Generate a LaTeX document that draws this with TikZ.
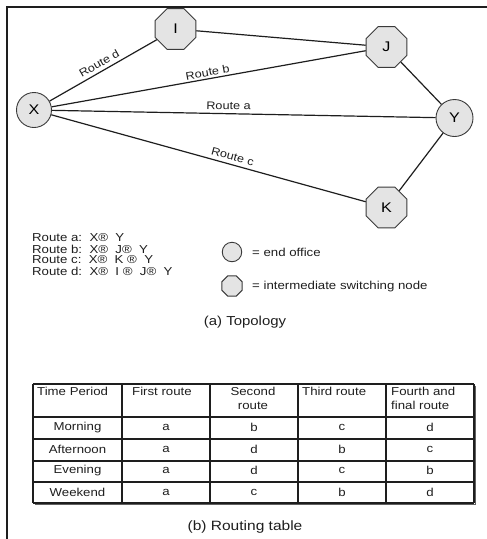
\documentclass[tikz,border=0pt]{standalone}
\usepackage{fontspec}
\setmainfont{Liberation Sans}[FakeStretch=1.15]
\usetikzlibrary{shapes.geometric}
\definecolor{nodefill}{HTML}{E4E4E4}
\definecolor{ink}{HTML}{1E1E1E}
\definecolor{rim}{HTML}{3A3A3A}
\begin{document}
\begin{tikzpicture}[x=1pt,y=-1pt,
 endoff/.style={circle,draw=rim,fill=nodefill,line width=0.9pt,minimum size=35pt,inner sep=0pt,font=\fontsize{14}{16}\selectfont},
 switchnode/.style={regular polygon,regular polygon sides=8,draw=rim,fill=nodefill,line width=0.9pt,minimum size=44pt,inner sep=0pt,font=\fontsize{14}{16}\selectfont},
 link/.style={draw=ink,line width=1.2pt},
 rlabel/.style={font=\fontsize{11}{13}\selectfont,sloped,above,inner sep=3.5pt,text=ink},
 legtext/.style={font=\fontsize{11.5}{13}\selectfont,anchor=west,inner sep=0pt,text=ink},
 cell/.style={font=\fontsize{11.5}{13.5}\selectfont,inner sep=0pt,text=ink},
 hcell/.style={font=\fontsize{11.5}{13.5}\selectfont,inner sep=0pt,text=ink,align=left,anchor=north west},
 caption/.style={font=\fontsize{13}{16}\selectfont,text=ink},
 tline/.style={line width=1.1pt,draw=ink}]
\useasboundingbox (0,0) rectangle (487,539);
% frame
\draw[line width=2pt,ink] (487,7) -- (7,7) -- (7,539);
% topology nodes
\node[endoff] (X) at (34,110) {X};
\node[switchnode] (I) at (175.5,29) {I};
\node[switchnode] (J) at (386.5,47) {J};
\node[endoff,minimum size=37pt] (Y) at (454.5,118) {Y};
\node[switchnode] (K) at (386.5,207.5) {K};
% links
\draw[link] (X) -- node[rlabel,pos=0.5]{Route d} (I);
\draw[link] (X) -- node[rlabel,pos=0.5,inner sep=2pt]{Route b} (J);
\draw[link] (X) -- node[rlabel,pos=0.46]{Route a} (Y);
\draw[link] (X) -- node[rlabel,pos=0.57]{Route c} (K);
\draw[link] (I) -- (J);
\draw[link] (J) -- (Y);
\draw[link] (K) -- (Y);
% legend
\node[legtext] (ra) at (32,238) {Route a:\ \ X® \ Y};
\node[legtext] (rb) at (32,249) {Route b:\ \ X® \ J® \ Y};
\node[legtext] (rc) at (32,260) {Route c:\ \ X® \ K ® \ Y};
\node[legtext] (rd) at (32,271) {Route d:\ \ X® \ I ® \ J® \ Y};
\node[endoff,minimum size=19.5pt] (le) at (232,252) {};
\node[switchnode,minimum size=22pt] (ls) at (232,286) {};
\node[legtext] (lt1) at (252,252) {= end office};
\node[legtext] (lt2) at (252,287) {= intermediate switching node};
\node[caption] (capa) at (245,322) {(a) Topology};
% table
\foreach \yy in {384,417,439,461,482,503} \draw[tline] (33,\yy) -- (474,\yy);
\foreach \xx in {33,122,210,298,386,474} \draw[tline] (\xx,384) -- (\xx,503);
\draw[line width=1pt,ink!70] (475.5,385.5) -- (475.5,504.5) -- (34.5,504.5);
\node[hcell] (h1) at (37,387) {Time Period};
\node[hcell] (h2) at (132,387) {First route};
\node[cell,align=center,anchor=north] (h3) at (253,387) {Second\\route};
\node[hcell] (h4) at (302,387) {Third route};
\node[hcell] (h5) at (391,387) {Fourth and\\final route};
\foreach \lab/\a/\b/\c/\d [count=\i] in {Morning/a/b/c/d,Afternoon/a/d/b/c,Evening/a/d/c/b,Weekend/a/c/b/d}{
  \pgfmathsetmacro{\yc}{417+21.5*\i-10.75}
  \node[cell] (p\i) at (77.5,\yc) {\lab};
  \node[cell] (f\i) at (166,\yc) {\a};
  \node[cell] (s\i) at (254,\yc) {\b};
  \node[cell] (t\i) at (342,\yc) {\c};
  \node[cell] (u\i) at (430,\yc) {\d};
}
\node[caption,font=\fontsize{13.5}{16}\selectfont] (capb) at (245,527) {(b) Routing table};
\end{tikzpicture}
\end{document}
